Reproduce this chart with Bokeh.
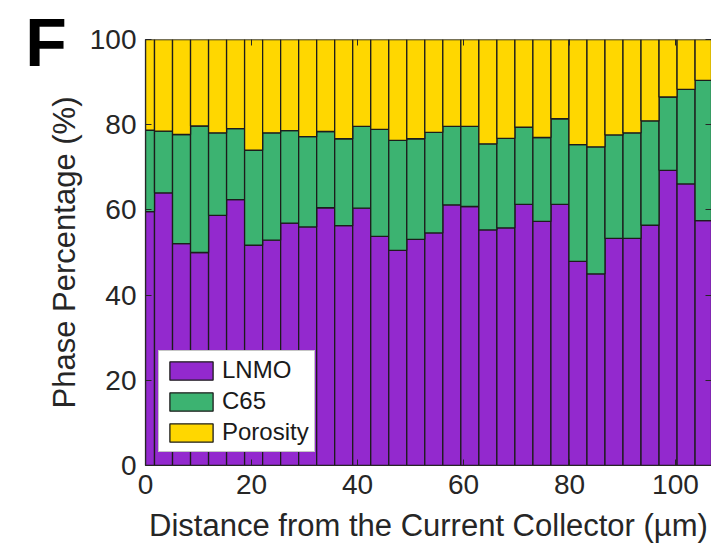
from bokeh.plotting import figure
from bokeh.models import (ColumnDataSource, Range1d, LinearAxis, Legend, LegendItem,
                          Label, FixedTicker)
from bokeh.embed import file_html
from bokeh.resources import INLINE

# Phase fractions (%) per slice through the electrode thickness
bin_width = 3.4
distance = [round(i * bin_width, 2) for i in range(32)]
lnmo = [59.6, 64.0, 52.1, 50.0, 58.7, 62.4, 51.7, 52.9, 56.9, 56.0, 60.5, 56.3,
        60.4, 53.8, 50.5, 53.1, 54.6, 61.2, 60.8, 55.3, 55.8, 61.3, 57.3, 61.3,
        47.9, 45.0, 53.3, 53.3, 56.4, 69.3, 66.1, 57.5]
c65 = [19.1, 14.5, 25.6, 29.7, 19.4, 16.7, 22.3, 25.2, 21.7, 21.2, 17.9, 20.4,
       19.2, 25.1, 25.8, 23.6, 23.6, 18.4, 18.8, 20.2, 21.0, 18.1, 19.7, 20.1,
       27.4, 29.8, 24.3, 24.8, 24.5, 17.2, 22.2, 32.9]
porosity = [round(100 - a - b, 1) for a, b in zip(lnmo, c65)]

phases = ["LNMO", "C65", "Porosity"]
colors = ["#9329CE", "#3CB371", "#FFD700"]
x_ticks = [0, 20, 40, 60, 80, 100]
y_ticks = [0, 20, 40, 60, 80, 100]

source = ColumnDataSource(dict(x=distance, LNMO=lnmo, C65=c65, Porosity=porosity))

FONT = "Liberation Sans"
TXT = "#262626"

p = figure(width=711, height=552, output_backend="svg", toolbar_location=None,
           x_range=Range1d(0, 106.8), y_range=Range1d(0, 100),
           min_border_left=145, min_border_top=39, min_border_bottom=87,
           min_border_right=0)
p.grid.visible = False
p.outline_line_color = "#c4c4c4"
p.outline_line_width = 1.2

renderers = p.vbar_stack(phases, x="x", width=bin_width, source=source,
                         color=colors, line_color="#1c1c1c", line_width=1.3)

for ax, ticks in ((p.xaxis[0], x_ticks), (p.yaxis[0], y_ticks)):
    ax.ticker = FixedTicker(ticks=ticks)
    ax.major_tick_in = 6
    ax.major_tick_out = 0
    ax.minor_tick_line_color = None
    ax.axis_line_color = TXT
    ax.axis_line_width = 1.2
    ax.major_tick_line_color = TXT
    ax.major_label_text_font = FONT
    ax.major_label_text_font_size = "28px"
    ax.major_label_text_color = TXT
    ax.axis_label_text_font = FONT
    ax.axis_label_text_font_size = "31px"
    ax.axis_label_text_font_style = "normal"
    ax.axis_label_text_color = TXT

p.xaxis.axis_label = "Distance from the Current Collector (\u00b5m)"
p.yaxis.axis_label = "Phase Percentage (%)"
p.xaxis.major_label_standoff = 9
p.xaxis.axis_label_standoff = 11
p.yaxis.major_label_standoff = 9
p.yaxis.axis_label_standoff = 5

# tick marks on the opposite sides of the box
def tick_only_axis(ticks):
    return LinearAxis(ticker=FixedTicker(ticks=ticks), major_tick_in=6, major_tick_out=0,
                      axis_line_color=None, major_tick_line_color=TXT,
                      minor_tick_line_color=None, major_label_text_font_size="8px",
                      major_label_overrides={t: "" for t in ticks},
                      major_label_standoff=0)

p.add_layout(tick_only_axis(x_ticks), "above")
p.add_layout(tick_only_axis(y_ticks), "right")

legend = Legend(items=[LegendItem(label=n, renderers=[r]) for n, r in zip(phases, renderers)],
                location=(13, 13), orientation="vertical",
                label_text_font=FONT, label_text_font_size="24px", label_text_color="#1a1a1a",
                glyph_width=54, glyph_height=23, label_height=23, label_standoff=4,
                spacing=3, padding=5, margin=0,
                border_line_color="#8c8c8c", border_line_width=1.2,
                background_fill_color="white", background_fill_alpha=1.0)
p.add_layout(legend, "center")

# panel letter in the upper-left corner (kept in the left margin so it is not clipped)
p.add_layout(Label(x=-22.7, y=99.5, text="F",
                   text_font=FONT, text_font_size="68px", text_font_style="bold",
                   text_color="black", text_baseline="alphabetic"), "left")

open("out.html", "w").write(file_html(p, INLINE))
